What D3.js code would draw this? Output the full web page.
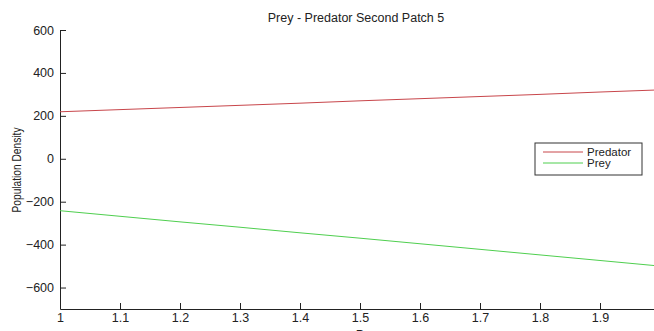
<!DOCTYPE html>
<html><head><meta charset="utf-8">
<script src="https://cdn.jsdelivr.net/npm/d3@7/dist/d3.min.js"></script>
<style>body{margin:0;background:#fff;overflow:hidden}svg{display:block;font-family:"Liberation Sans",Arial,sans-serif}</style>
</head><body>
<script>
const pValues = [1, 1.1, 1.2, 1.3, 1.4, 1.5, 1.6, 1.7, 1.8, 1.9, 2];
const predator = [219, 229, 239, 249, 259, 270, 280, 290, 300, 311, 321];
const prey = [-242, -268, -294, -319, -345, -370, -396, -422, -448, -474, -500];
const xTicks = [1, 1.1, 1.2, 1.3, 1.4, 1.5, 1.6, 1.7, 1.8, 1.9, 2];
const yTicks = [-600, -400, -200, 0, 200, 400, 600];
const seriesNames = ["Predator", "Prey"];
const colors = ["#c8464b", "#4fcf4f"];

const W = 654, H = 331;
const svg = d3.select("body").append("svg").attr("width", W).attr("height", H);
const m = {l: 60, r: -6, t: 30, b: 22};
const x = d3.scaleLinear().domain([1, 2]).range([m.l, W - m.r]);
const y = d3.scaleLinear().domain([-700, 600]).range([H - m.b, m.t]);

const tickColor = "#222";
const gx = svg.append("g").attr("transform", `translate(0,${H - m.b})`)
  .call(d3.axisBottom(x).tickValues(xTicks).tickSizeInner(-6).tickSizeOuter(0).tickPadding(4).tickFormat(d3.format("")));
const gy = svg.append("g").attr("transform", `translate(${m.l},0)`)
  .call(d3.axisLeft(y).tickValues(yTicks).tickSizeInner(-6).tickSizeOuter(0).tickPadding(6));
[gx, gy].forEach(g => {
  g.select(".domain").attr("stroke", tickColor);
  g.selectAll(".tick line").attr("stroke", tickColor);
  g.selectAll("text").attr("fill", "#222").style("font-size", "12.5px").style("font-family", "Liberation Sans, Arial, sans-serif");
});

const line = d3.line().x((d, i) => x(pValues[i])).y(d => y(d));
[predator, prey].forEach((s, k) => {
  svg.append("path").datum(s).attr("d", line).attr("fill", "none")
    .attr("stroke", colors[k]).attr("stroke-width", 1);
});

svg.append("text").attr("x", 356).attr("y", 22).attr("text-anchor", "middle")
  .attr("fill", "#222").style("font-size", "12.5px").text("Prey - Predator Second Patch 5");
svg.append("text").attr("transform", `translate(21,170) rotate(-90)`).attr("text-anchor", "middle")
  .attr("fill", "#222").style("font-size", "12.5px")
  .attr("textLength", 85).attr("lengthAdjust", "spacingAndGlyphs").text("Population Density");
svg.append("text").attr("x", x(1.5)).attr("y", 339).attr("text-anchor", "middle")
  .attr("fill", "#222").style("font-size", "12.5px").text("P");

const lg = svg.append("g").attr("transform", "translate(535,143)");
lg.append("rect").attr("width", 107).attr("height", 32).attr("fill", "#fff").attr("stroke", "#333").attr("stroke-width", 1);
seriesNames.forEach((n, i) => {
  const yy = 9 + i * 11;
  lg.append("line").attr("x1", 8).attr("x2", 48).attr("y1", yy).attr("y2", yy).attr("stroke", colors[i]);
  lg.append("text").attr("x", 52).attr("y", yy + 4).attr("fill", "#222").style("font-size", "11.5px").text(n);
});
</script>
</body></html>
